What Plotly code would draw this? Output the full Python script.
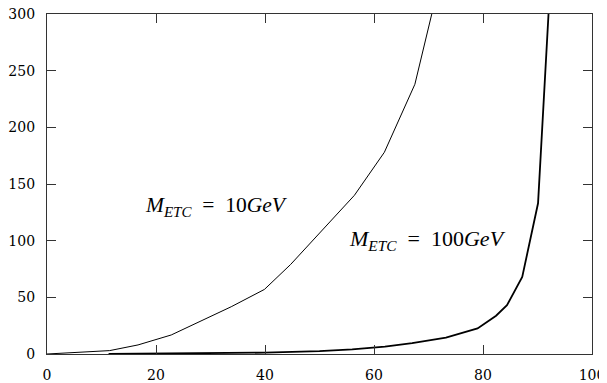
import plotly.graph_objects as go

# M_ETC = 10 GeV curve (thin)
x_10 = [0, 11.5, 16.7, 22.8, 33.8, 39.9, 44.7, 56.4, 61.9, 67.5, 70.6, 72.0]
y_10 = [0, 3.0, 8.0, 16.8, 41.7, 57.0, 79.0, 140.0, 178.0, 238.0, 300.0, 330.0]

# M_ETC = 100 GeV curve (thick)
x_100 = [11.3, 20, 30, 40, 50, 56, 62, 67, 73.2, 79.0, 82.4, 84.4, 87.2, 90.1, 93.0]
y_100 = [0.1, 0.3, 0.6, 1.2, 2.5, 4.0, 6.5, 9.5, 14.4, 22.6, 33.8, 43.0, 68.0, 133.0, 385.0]

x_ticks = [0, 20, 40, 60, 80, 100]
y_ticks = [0, 50, 100, 150, 200, 250, 300]

label_10 = "<i>M</i><sub><i>ETC</i></sub>\u2002=\u200210<i>GeV</i>"
label_100 = "<i>M</i><sub><i>ETC</i></sub>\u2002=\u2002100<i>GeV</i>"

fig = go.Figure()
fig.add_trace(go.Scatter(x=x_10, y=y_10, mode="lines",
                         line=dict(color="black", width=1), showlegend=False))
fig.add_trace(go.Scatter(x=x_100, y=y_100, mode="lines",
                         line=dict(color="black", width=1.8), showlegend=False))

fig.add_annotation(x=17.7, y=130, text=label_10, showarrow=False,
                   xanchor="left", yanchor="middle",
                   font=dict(family="Liberation Serif", size=21.5, color="black"))
fig.add_annotation(x=55.0, y=101, text=label_100, showarrow=False,
                   xanchor="left", yanchor="middle",
                   font=dict(family="Liberation Serif", size=22, color="black"))

axis_common = dict(showgrid=False, zeroline=False, showline=True, linecolor="#333",
                   linewidth=1.3, mirror="ticks", ticks="inside", ticklen=9,
                   tickcolor="#333", tickwidth=1.2, automargin=False,
                   ticklabeloverflow="allow",
                   tickfont=dict(family="DejaVu Serif", size=14, color="black"))

fig.update_xaxes(range=[0, 100], tickvals=x_ticks, ticklabelstandoff=8, **axis_common)
fig.update_yaxes(range=[0, 300], tickvals=y_ticks, ticklabelstandoff=8, **axis_common)

# page body has an 8px margin, so the figure is sized/placed to compensate
fig.update_layout(width=599, height=375, plot_bgcolor="white", paper_bgcolor="white",
                  margin=dict(l=39, r=15, t=6, b=29))

fig.write_html("out.html")
